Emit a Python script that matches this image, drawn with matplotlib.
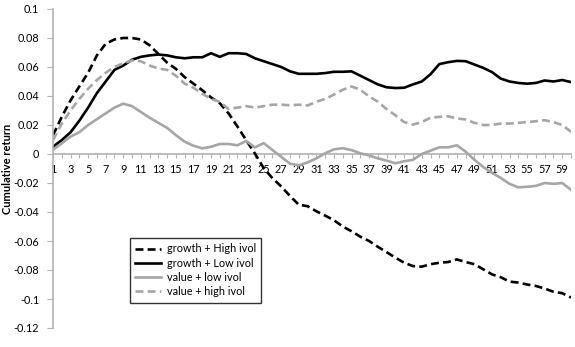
import matplotlib
matplotlib.use("Agg")
import matplotlib.pyplot as plt
import numpy as np

plt.rcParams['font.family'] = ['Lato', 'DejaVu Sans']

months = list(range(1, 61))

growth_high = [0.013, 0.0256, 0.037, 0.0466, 0.056, 0.068, 0.076, 0.079, 0.080, 0.080,
               0.079, 0.075, 0.069, 0.063, 0.0587, 0.053, 0.0485, 0.044, 0.039, 0.035,
               0.028, 0.019, 0.0096, 0.0003, -0.0098, -0.0167, -0.0224, -0.029, -0.035, -0.036,
               -0.0395, -0.0425, -0.0457, -0.050, -0.0533, -0.057, -0.060, -0.064, -0.0677, -0.0715,
               -0.075, -0.0773, -0.0777, -0.076, -0.075, -0.0745, -0.0727, -0.0745, -0.076, -0.0795,
               -0.083, -0.085, -0.088, -0.0887, -0.090, -0.091, -0.0928, -0.095, -0.096, -0.099]

growth_low = [0.005, 0.0096, 0.015, 0.023, 0.032, 0.042, 0.050, 0.058, 0.061, 0.065,
              0.067, 0.068, 0.0686, 0.068, 0.0667, 0.066, 0.0667, 0.0667, 0.0695, 0.067,
              0.0695, 0.0695, 0.069, 0.066, 0.064, 0.062, 0.060, 0.057, 0.0553, 0.0553,
              0.0553, 0.0558, 0.0567, 0.0567, 0.057, 0.054, 0.051, 0.048, 0.046, 0.0455,
              0.0457, 0.048, 0.050, 0.055, 0.062, 0.0633, 0.0642, 0.064, 0.0617, 0.0594,
              0.0565, 0.052, 0.050, 0.049, 0.0485, 0.049, 0.0507, 0.050, 0.051, 0.0496]

value_low = [0.003, 0.0073, 0.012, 0.015, 0.020, 0.024, 0.028, 0.032, 0.0347, 0.033,
             0.029, 0.025, 0.0215, 0.018, 0.013, 0.0085, 0.0057, 0.0039, 0.005, 0.0069,
             0.0069, 0.006, 0.009, 0.0046, 0.0075, 0.0027, -0.002, -0.0067, -0.0078, -0.0058,
             -0.003, 0.0005, 0.0032, 0.004, 0.0027, 0.0005, -0.001, -0.003, -0.0046, -0.0064,
             -0.005, -0.004, 0.0, 0.0023, 0.0046, 0.0046, 0.006, 0.0016, -0.004, -0.009,
             -0.013, -0.0165, -0.0206, -0.023, -0.0226, -0.022, -0.020, -0.0206, -0.020, -0.0247]

value_high = [0.0096, 0.021, 0.030, 0.038, 0.045, 0.051, 0.056, 0.060, 0.0626, 0.0645,
              0.064, 0.061, 0.059, 0.058, 0.054, 0.0485, 0.0457, 0.0416, 0.038, 0.036,
              0.031, 0.032, 0.033, 0.032, 0.033, 0.034, 0.034, 0.0336, 0.034, 0.0335,
              0.036, 0.038, 0.041, 0.0443, 0.0466, 0.0443, 0.0398, 0.036, 0.031, 0.0267,
              0.022, 0.0203, 0.022, 0.025, 0.0256, 0.026, 0.0245, 0.0238, 0.0215, 0.020,
              0.020, 0.021, 0.021, 0.0215, 0.022, 0.0226, 0.0233, 0.022, 0.020, 0.0153]

y_ticks = [0.1, 0.08, 0.06, 0.04, 0.02, 0, -0.02, -0.04, -0.06, -0.08, -0.1, -0.12]
y_ticklabels = ["0.1", "0.08", "0.06", "0.04", "0.02", "0", "-0.02", "-0.04", "-0.06",
                "-0.08", "-0.1", "-0.12"]
x_labels = [str(m) if m % 2 == 1 else "" for m in months]

series_labels = ["growth + High ivol", "growth + Low ivol", "value + low ivol", "value + high ivol"]

GRAY = "#A6A6A6"
AXGRAY = "#B3B3B3"

fig = plt.figure(figsize=(5.75, 3.47), dpi=100)
ax = fig.add_axes([53/575, 19/347, 518/575, 319/347])

lw = 1.9
ax.plot(months, growth_high, color="black", lw=lw, ls=(0, (3, 1.6)), label=series_labels[0])
ax.plot(months, growth_low, color="black", lw=lw, ls="-", label=series_labels[1])
ax.plot(months, value_low, color=GRAY, lw=lw, ls="-", label=series_labels[2])
ax.plot(months, value_high, color=GRAY, lw=lw, ls=(0, (3, 1.6)), label=series_labels[3])

ax.set_xlim(1, 60)
ax.set_ylim(-0.12, 0.1)

for s in ["top", "right"]:
    ax.spines[s].set_visible(False)
ax.spines["bottom"].set_position(("data", 0))
ax.spines["bottom"].set_color(AXGRAY)
ax.spines["left"].set_color(AXGRAY)
ax.spines["bottom"].set_linewidth(1.2)
ax.spines["left"].set_linewidth(1.2)
ax.spines["bottom"].set_zorder(0)

ax.set_xticks(months)
ax.set_xticklabels(x_labels)
ax.set_yticks(y_ticks)
ax.set_yticklabels(y_ticklabels)
ax.tick_params(axis="x", direction="out", length=3, width=0.8, color=AXGRAY,
               labelsize=7.8, pad=4, labelcolor="black")
ax.tick_params(axis="y", direction="out", length=4, width=0.8, color=AXGRAY,
               labelsize=7.8, pad=6, labelcolor="black")

ax.set_ylabel("Cumulative return", fontsize=8, fontweight="bold")
ax.yaxis.set_label_coords(-0.077, 0.5)

leg = ax.legend(loc="upper left", bbox_to_anchor=(0.1486, 0.282), borderaxespad=0,
                fontsize=7.8, frameon=True, fancybox=False, edgecolor="black",
                handlelength=2.4, handletextpad=0.5, labelspacing=0.3,
                borderpad=0.5)
leg.get_frame().set_linewidth(1.0)

fig.savefig("out.png", dpi=100)
